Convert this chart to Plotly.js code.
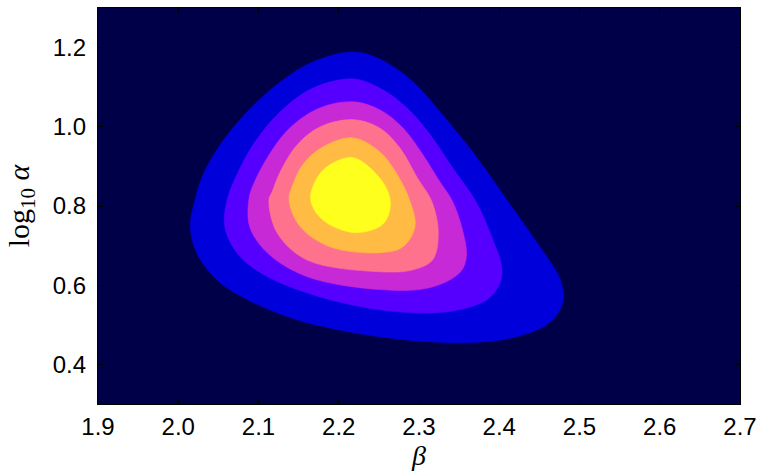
<!DOCTYPE html>
<html>
<head>
<meta charset="utf-8">
<script src="https://cdn.plot.ly/plotly-3.0.1.min.js"></script>
<style>
  html, body { margin: 0; padding: 0; background: #ffffff; }
  #chart { width: 758px; height: 473px; }
</style>
</head>
<body>
<div id="chart"></div>
<script>
// Filled posterior contours in the (beta, log10 alpha) plane.
// Each level is a closed boundary, listed from the outermost to the innermost.
const level1Beta  = [2.218, 2.251, 2.293, 2.326, 2.360, 2.385, 2.411, 2.447, 2.476, 2.479, 2.463, 2.417, 2.355, 2.251, 2.148, 2.086, 2.048, 2.023, 2.015, 2.021, 2.031, 2.052, 2.086, 2.127, 2.168];
const level1Alpha = [1.189, 1.171, 1.113, 1.038, 0.954, 0.886, 0.811, 0.707, 0.614, 0.556, 0.506, 0.468, 0.455, 0.470, 0.513, 0.564, 0.614, 0.682, 0.748, 0.816, 0.879, 0.954, 1.038, 1.113, 1.164];

const level2Beta  = [2.218, 2.251, 2.285, 2.314, 2.342, 2.371, 2.392, 2.403, 2.401, 2.385, 2.335, 2.251, 2.160, 2.102, 2.073, 2.058, 2.061, 2.073, 2.093, 2.127, 2.168];
const level2Alpha = [1.121, 1.098, 1.048, 0.980, 0.896, 0.811, 0.715, 0.647, 0.606, 0.564, 0.533, 0.538, 0.581, 0.632, 0.682, 0.748, 0.816, 0.879, 0.954, 1.038, 1.098];

const level3Beta  = [2.218, 2.251, 2.280, 2.305, 2.326, 2.342, 2.355, 2.359, 2.351, 2.314, 2.251, 2.160, 2.111, 2.089, 2.088, 2.092, 2.111, 2.139, 2.177];
const level3Alpha = [1.063, 1.043, 0.997, 0.929, 0.861, 0.811, 0.733, 0.672, 0.632, 0.594, 0.589, 0.622, 0.682, 0.748, 0.816, 0.846, 0.922, 0.997, 1.048];

const level4Beta  = [2.218, 2.251, 2.276, 2.298, 2.316, 2.324, 2.317, 2.293, 2.251, 2.160, 2.123, 2.113, 2.117, 2.127, 2.148, 2.177];
const level4Alpha = [1.018, 0.997, 0.947, 0.871, 0.811, 0.733, 0.664, 0.639, 0.634, 0.664, 0.733, 0.816, 0.836, 0.886, 0.954, 1.000];

const level5Beta  = [2.218, 2.251, 2.273, 2.289, 2.295, 2.280, 2.251, 2.189, 2.152, 2.138, 2.143, 2.155, 2.180];
const level5Alpha = [0.972, 0.937, 0.879, 0.811, 0.748, 0.697, 0.682, 0.697, 0.748, 0.816, 0.854, 0.904, 0.949];

const level6Beta  = [2.218, 2.251, 2.264, 2.261, 2.251, 2.218, 2.180, 2.165, 2.173, 2.189];
const level6Alpha = [0.922, 0.871, 0.816, 0.773, 0.748, 0.733, 0.765, 0.816, 0.871, 0.904];

// gnuplot2 colours, background first, then one per filled level
const backgroundColor = 'rgb(0,0,73)';
const levelColors = [
  'rgb(0,0,219)',
  'rgb(85,0,255)',
  'rgb(200,41,214)',
  'rgb(255,114,141)',
  'rgb(255,187,68)',
  'rgb(255,255,30)'
];

const xTicks = [1.9, 2.0, 2.1, 2.2, 2.3, 2.4, 2.5, 2.6, 2.7];
const yTicks = [0.4, 0.6, 0.8, 1.0, 1.2];

const levels = [
  [level1Beta, level1Alpha],
  [level2Beta, level2Alpha],
  [level3Beta, level3Alpha],
  [level4Beta, level4Alpha],
  [level5Beta, level5Alpha],
  [level6Beta, level6Alpha]
];

// Repeat the first point so the spline closes without a kink.
const traces = levels.map(([bx, ay], i) => ({
  type: 'scatter',
  mode: 'lines',
  x: bx.concat([bx[0]]),
  y: ay.concat([ay[0]]),
  fill: 'toself',
  fillcolor: levelColors[i],
  line: { shape: 'spline', smoothing: 1, color: levelColors[i], width: 0.6 },
  hoverinfo: 'skip',
  showlegend: false
}));

const tickFont = { family: '"Liberation Sans", Arial, sans-serif', size: 24, color: '#000000' };
const titleFont = { family: '"Liberation Serif", "DejaVu Serif", serif', size: 30, color: '#000000' };

const layout = {
  width: 758,
  height: 473,
  margin: { l: 98, r: 18, t: 8, b: 69 },
  paper_bgcolor: '#ffffff',
  plot_bgcolor: backgroundColor,
  showlegend: false,
  xaxis: {
    range: [1.9, 2.7],
    tickvals: xTicks,
    ticktext: xTicks.map(v => v.toFixed(1)),
    ticks: 'inside',
    ticklen: 5,
    tickwidth: 1,
    tickcolor: '#000000',
    ticklabelstandoff: 1,
    showgrid: false,
    zeroline: false,
    showline: true,
    linecolor: '#000000',
    linewidth: 1.2,
    mirror: 'ticks',
    tickfont: tickFont,
    title: { text: '<i>β</i>', font: { family: titleFont.family, size: 28, color: '#000000' }, standoff: 6 }
  },
  yaxis: {
    range: [0.3, 1.3],
    tickvals: yTicks,
    ticktext: yTicks.map(v => v.toFixed(1)),
    ticks: 'inside',
    ticklen: 5,
    tickwidth: 1,
    tickcolor: '#000000',
    ticklabelstandoff: 6,
    showgrid: false,
    zeroline: false,
    showline: true,
    linecolor: '#000000',
    linewidth: 1.2,
    mirror: 'ticks',
    tickfont: tickFont,
    title: { text: 'log<sub>10</sub> <i>α</i>', font: titleFont, standoff: 14 }
  }
};

Plotly.newPlot('chart', traces, layout, { staticPlot: true, displayModeBar: false });
</script>
</body>
</html>
